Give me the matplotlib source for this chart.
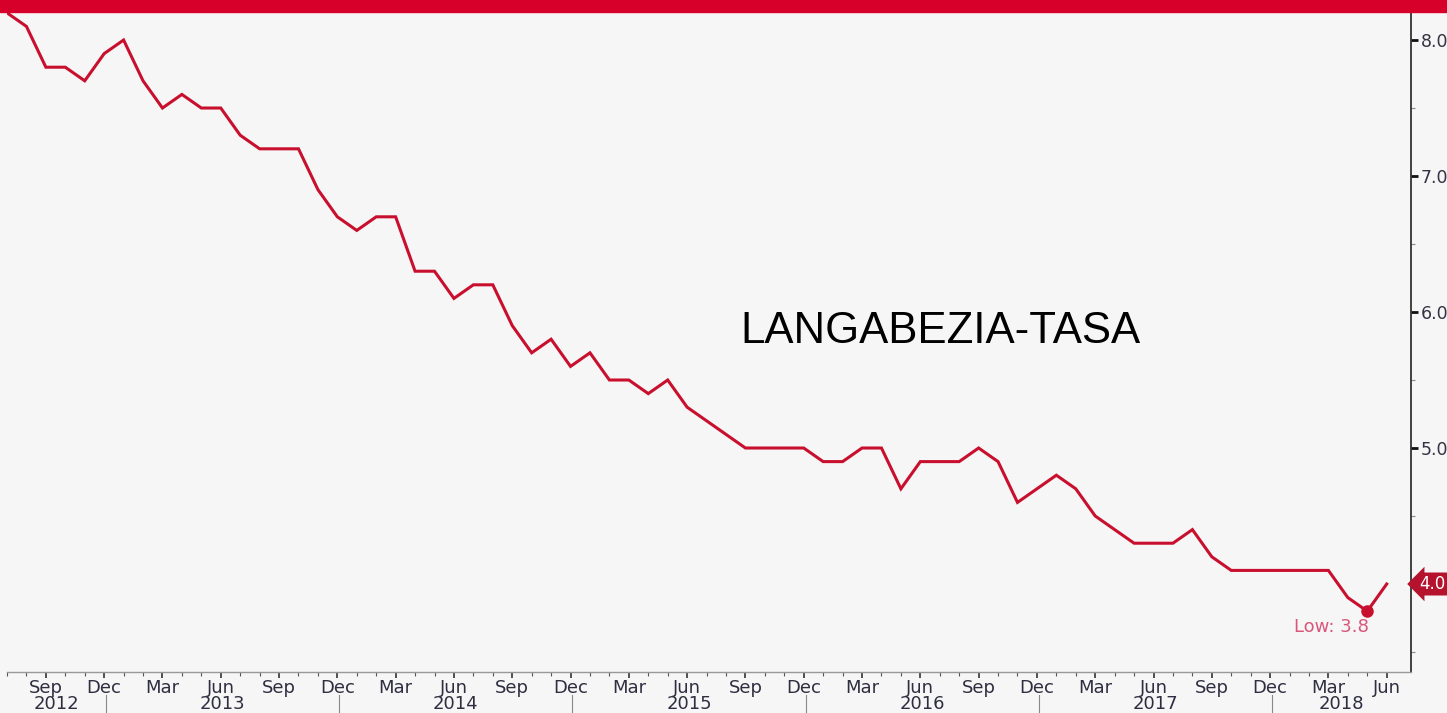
import matplotlib.pyplot as plt
from matplotlib.patches import Rectangle
from matplotlib.transforms import blended_transform_factory

# monthly rate, Jul 2012 .. Jun 2018
values = [8.2, 8.1, 7.8, 7.8, 7.7, 7.9,
          8.0, 7.7, 7.5, 7.6, 7.5, 7.5, 7.3, 7.2, 7.2, 7.2, 6.9, 6.7,
          6.6, 6.7, 6.7, 6.3, 6.3, 6.1, 6.2, 6.2, 5.9, 5.7, 5.8, 5.6,
          5.7, 5.5, 5.5, 5.4, 5.5, 5.3, 5.2, 5.1, 5.0, 5.0, 5.0, 5.0,
          4.9, 4.9, 5.0, 5.0, 4.7, 4.9, 4.9, 4.9, 5.0, 4.9, 4.6, 4.7,
          4.8, 4.7, 4.5, 4.4, 4.3, 4.3, 4.3, 4.4, 4.2, 4.1, 4.1, 4.1,
          4.1, 4.1, 4.1, 3.9, 3.8, 4.0]
month_names = ["Jul", "Aug", "Sep", "Oct", "Nov", "Dec",
               "Jan", "Feb", "Mar", "Apr", "May", "Jun"]
years = ["2012", "2013", "2014", "2015", "2016", "2017", "2018"]
y_ticks = [4.0, 5.0, 6.0, 7.0, 8.0]
low_value = 3.8
last_value = 4.0
label = "LANGABEZIA-TASA"

red = "#c8102e"
bg = "#f6f6f6"

xs = list(range(len(values)))

fig = plt.figure(figsize=(14.47, 7.13), dpi=100, facecolor=bg)
ax = fig.add_axes([7 / 1447, 41 / 713, 1404 / 1447, 660 / 713])
ax.set_facecolor(bg)

ax.plot(xs, values, color=red, lw=2.2, solid_joinstyle="miter", zorder=3)

# low point
i_low = values.index(low_value)
ax.plot(xs[i_low], low_value, "o", color=red, ms=8, zorder=4)
ax.annotate("Low: " + str(low_value), (xs[i_low], low_value),
            xytext=(1, -5), textcoords="offset points", ha="right", va="top",
            color="#d9577a", fontsize=13)

ax.set_xlim(0, 72.25)
ax.set_ylim(3.353, 8.206)

# spines
for s in ["left", "top"]:
    ax.spines[s].set_visible(False)
ax.spines["right"].set_color("#222222")
ax.spines["right"].set_linewidth(1.2)
ax.spines["bottom"].set_color("#999999")
ax.spines["bottom"].set_linewidth(1.0)

# y axis on the right
ax.yaxis.tick_right()
ax.set_yticks(y_ticks)
ax.set_yticklabels(["%.1f" % v for v in y_ticks])
ax.set_yticks([v + 0.5 for v in [3.0] + y_ticks[:-1]], minor=True)
ax.tick_params(axis="y", which="major", length=5, width=2, color="#111111",
               labelsize=12.5, labelcolor="#333344", pad=2)
ax.tick_params(axis="y", which="minor", length=3, width=0.8, color="#888888")

# x axis: months
major = [i for i in xs if month_names[i % 12] in ("Sep", "Dec", "Mar", "Jun")]
ax.set_xticks(major)
ax.set_xticklabels([month_names[i % 12] for i in major])
ax.set_xticks(xs, minor=True)
ax.tick_params(axis="x", which="major", length=4, width=1.2, color="#333333",
               labelsize=13, labelcolor="#2e2e40", pad=1)
ax.tick_params(axis="x", which="minor", length=3, width=0.8, color="#555555")

# year labels and separators
trans = blended_transform_factory(ax.transData, ax.transAxes)
seps = [i + 0.1 for i in xs if month_names[i % 12] == "Dec"]
bounds = [0] + seps + [72.25]
for k, yr in enumerate(years):
    mid = (bounds[k] + bounds[k + 1]) / 2
    ax.text(mid, -0.049, yr, transform=trans, ha="center", va="center",
            fontsize=13, color="#2e2e40", clip_on=False)
for sx in seps:
    ax.plot([sx, sx], [-0.035, -0.07], transform=trans, color="#888888",
            lw=0.8, clip_on=False)

# last value tag
ax.text(1.006, last_value, "%.1f" % last_value,
        transform=blended_transform_factory(ax.transAxes, ax.transData),
        ha="left", va="center", fontsize=12, color="white",
        bbox=dict(boxstyle="larrow,pad=0.15", fc="#b5122e", ec="none"))

fig.text(940 / 1447, 1 - 331 / 713, label, ha="center", va="center",
         fontsize=31.5, family="Liberation Sans", color="black")

# red banner
fig.patches.append(Rectangle((0, 701 / 713), 1, 12 / 713,
                             transform=fig.transFigure, color="#d7002b",
                             zorder=10))

fig.savefig("out.png", dpi=100, facecolor=bg)
